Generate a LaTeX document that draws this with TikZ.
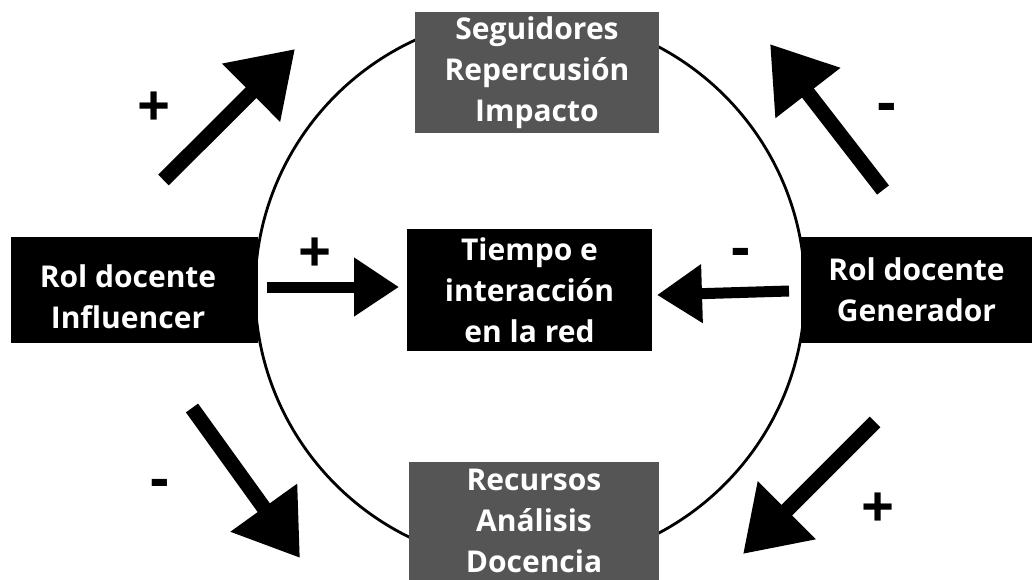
\documentclass[tikz,border=0pt]{standalone}
\usepackage{fontspec}
\setmainfont{Open Sans}
\usetikzlibrary{arrows.meta}
\definecolor{boxgray}{HTML}{555555}
\tikzset{
	rolbox/.style={fill=black, text=white, font=\bfseries\fontsize{30}{41}\selectfont, align=center, inner sep=0pt},
	grisbox/.style={rolbox, fill=boxgray},
	signo/.style={font=\bfseries\fontsize{58}{58}\selectfont, inner sep=0pt},
	flecha/.style={line width=15, -{Triangle[length=62,width=78]}},
	flechita/.style={line width=11, -{Triangle[length=45,width=56]}}
}
\begin{document}
\begin{tikzpicture}[x=1pt,y=-1pt]
	\useasboundingbox (0,0) rectangle (1032,579);
	\coordinate (centro) at (530,290);
	\draw[line width=2.8] (centro) circle (275);
	% cajas
	\node[grisbox, minimum width=244, minimum height=121] (seguidores) at (537,72.5) {Seguidores\\Repercusión\\Impacto};
	\node[grisbox, minimum width=250, minimum height=118] (recursos) at (534,521) {Recursos\\Análisis\\Docencia};
	\node[rolbox, minimum width=247, minimum height=106] (influencer) at (134.5,290) {};
	\node[rolbox, fill=none] (influencertxt) at (128,297) {Rol docente\\Influencer};
	\node[rolbox, minimum width=231, minimum height=106] (generador) at (916.5,290) {Rol docente\\Generador};
	\node[rolbox, minimum width=245, minimum height=122] (tiempo) at (529.5,290) {Tiempo e\\interacción\\en la red};
	% flechas
	\coordinate (a1) at (163.5,180); \coordinate (b1) at (295,49);
	\coordinate (a2) at (883,190); \coordinate (b2) at (770,44);
	\coordinate (a3) at (267,287); \coordinate (b3) at (399,287);
	\coordinate (a4) at (789,291); \coordinate (b4) at (657,295);
	\coordinate (a5) at (192,408); \coordinate (b5) at (300,558);
	\coordinate (a6) at (875,422); \coordinate (b6) at (743,554);
	\draw[flecha] (a1) -- (b1);
	\draw[flecha] (a2) -- (b2);
	\draw[flechita] (a3) -- (b3);
	\draw[flechita] (a4) -- (b4);
	\draw[flecha] (a5) -- (b5);
	\draw[flecha] (a6) -- (b6);
	% signos
	\node[signo] (s1) at (154,109) {+};
	\node[signo] (s2) at (887,113) {-};
	\node[signo] (s3) at (315,255) {+};
	\node[signo] (s4) at (741,258) {-};
	\node[signo] (s5) at (160,489) {-};
	\node[signo] (s6) at (878,510) {+};
\end{tikzpicture}
\end{document}
